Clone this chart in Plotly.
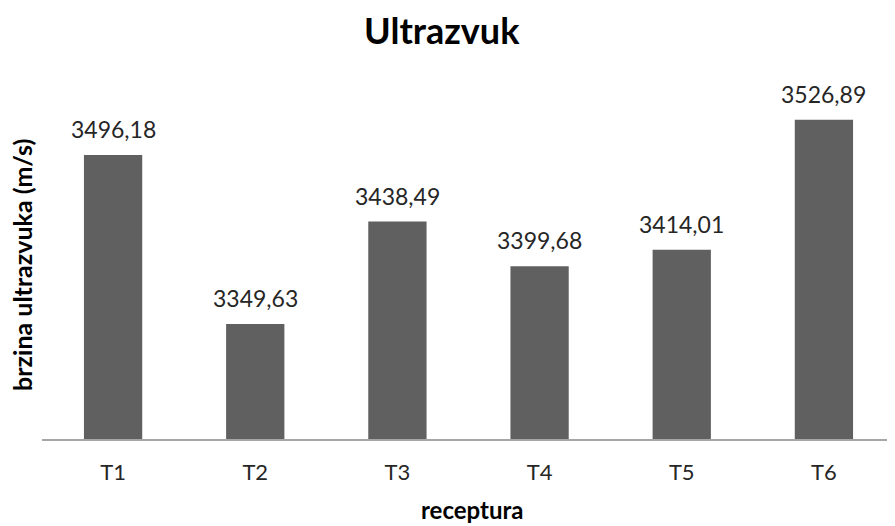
import plotly.graph_objects as go

categories = ["T1", "T2", "T3", "T4", "T5", "T6"]
values = [3496.18, 3349.63, 3438.49, 3399.68, 3414.01, 3526.89]
labels = [f"{v:.2f}".replace(".", ",") for v in values]

font_family = "Lato, 'Open Sans', sans-serif"

fig = go.Figure(go.Bar(
    x=categories, y=values,
    marker=dict(color="#606060", line=dict(width=0)),
    width=0.41,
))

for c, v, t in zip(categories, values, labels):
    fig.add_annotation(x=c, y=v, text=t, showarrow=False, yanchor="bottom",
                       yshift=10, font=dict(size=23, color="#262626", family=font_family))

fig.add_annotation(text="<b>brzina ultrazvuka (m/s)</b>", xref="paper", yref="paper",
                   x=-0.0235, y=0.503, xanchor="center", yanchor="middle", textangle=-90,
                   showarrow=False, font=dict(size=25, color="black", family=font_family))
fig.add_annotation(text="<b>receptura</b>", xref="paper", yref="paper",
                   x=0.505, y=-0.203, xanchor="center", yanchor="middle",
                   showarrow=False, font=dict(size=24, color="black", family=font_family))

fig.update_layout(
    width=887, height=518,
    margin=dict(l=34, r=0, t=85, b=87, autoexpand=False),
    paper_bgcolor="white", plot_bgcolor="white",
    showlegend=False,
    title=dict(text="<b>Ultrazvuk</b>", x=0.489, xanchor="center", y=0.955, yanchor="middle",
               font=dict(size=36, color="black", family=font_family)),
    font=dict(family=font_family),
)
fig.update_xaxes(
    showline=True, linecolor="#a6a6a6", linewidth=1.5, ticks="", showgrid=False,
    automargin=False, ticklabelstandoff=13,
    tickfont=dict(size=22, color="#262626"),
)
fig.update_yaxes(
    range=[3250, 3550], showline=False, showgrid=False, zeroline=False,
    showticklabels=False, ticks="", automargin=False,
)

fig.write_html("out.html")
